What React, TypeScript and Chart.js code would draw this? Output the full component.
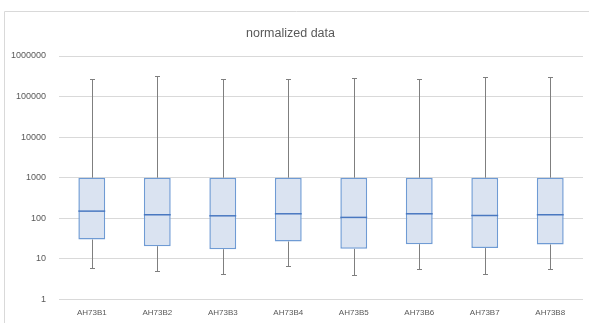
import React, { useEffect, useRef } from "react";
import { Chart, registerables } from "chart.js";

Chart.register(...registerables);

const categories = ["AH73B1", "AH73B2", "AH73B3", "AH73B4", "AH73B5", "AH73B6", "AH73B7", "AH73B8"];
const mins = [6, 5, 4.2, 6.8, 4.0, 5.5, 4.2, 5.5];
const q1s = [30, 20.5, 17.3, 26.8, 17.7, 23, 18.4, 22.6];
const medians = [150, 122, 115, 129, 105, 129, 117, 122];
const q3s = [1000, 1000, 1000, 1000, 1000, 1000, 1000, 1000];
const maxs = [273000, 316000, 267000, 278000, 294000, 278000, 299000, 299000];
const yTicks = [1, 10, 100, 1000, 10000, 100000, 1000000];

const FONT = "'Liberation Sans', Arial, sans-serif";

const boxPlugin = {
  id: "boxParts",
  beforeDraw(chart: any) {
    const ctx = chart.ctx;
    ctx.save();
    ctx.strokeStyle = "#d9d9d9";
    ctx.lineWidth = 1;
    ctx.beginPath();
    ctx.moveTo(4.5, chart.height);
    ctx.lineTo(4.5, 11.5);
    ctx.lineTo(chart.width, 11.5);
    ctx.stroke();
    ctx.restore();
  },
  beforeDatasetsDraw(chart: any) {
    const ctx = chart.ctx;
    const x = chart.scales.x;
    const y = chart.scales.y;
    ctx.save();
    ctx.strokeStyle = "#7f7f7f";
    ctx.lineWidth = 1;
    categories.forEach((_, i) => {
      const cx = Math.round(x.getPixelForValue(i)) + 0.5;
      const yMax = Math.round(y.getPixelForValue(maxs[i])) + 0.5;
      const yMin = Math.round(y.getPixelForValue(mins[i])) + 0.5;
      const yQ3 = y.getPixelForValue(q3s[i]);
      const yQ1 = y.getPixelForValue(q1s[i]);
      ctx.beginPath();
      ctx.moveTo(cx, yMax);
      ctx.lineTo(cx, yQ3);
      ctx.moveTo(cx, yQ1);
      ctx.lineTo(cx, yMin);
      ctx.moveTo(cx - 2.5, yMax);
      ctx.lineTo(cx + 2.5, yMax);
      ctx.moveTo(cx - 2.5, yMin);
      ctx.lineTo(cx + 2.5, yMin);
      ctx.stroke();
    });
    ctx.restore();
  },
  afterDatasetsDraw(chart: any) {
    const ctx = chart.ctx;
    const y = chart.scales.y;
    const meta = chart.getDatasetMeta(0);
    ctx.save();
    ctx.strokeStyle = "#4a78c0";
    ctx.lineWidth = 1.5;
    meta.data.forEach((bar: any, i: number) => {
      const half = bar.width / 2;
      const ym = y.getPixelForValue(medians[i]);
      ctx.beginPath();
      ctx.moveTo(bar.x - half, ym);
      ctx.lineTo(bar.x + half, ym);
      ctx.stroke();
    });
    ctx.restore();
  },
};

export default function App() {
  const ref = useRef<HTMLCanvasElement | null>(null);
  useEffect(() => {
    document.body.style.margin = "0";
    const chart = new Chart(ref.current as HTMLCanvasElement, {
      type: "bar",
      data: {
        labels: categories,
        datasets: [
          {
            data: categories.map((_, i) => [q1s[i], q3s[i]]) as any,
            backgroundColor: "#dae3f1",
            borderColor: "#6f9bd4",
            borderWidth: 1.5,
            borderSkipped: false,
            barPercentage: 0.41,
            categoryPercentage: 1,
          },
        ],
      },
      options: {
        animation: false,
        responsive: false,
        layout: { padding: { left: -2, right: 6, top: 0, bottom: 4 } },
        plugins: {
          legend: { display: false },
          tooltip: { enabled: false },
          title: {
            display: true,
            text: "normalized data",
            color: "#595959",
            font: { family: FONT, size: 12.5, weight: "normal" },
            padding: { top: 26, bottom: 15 },
          },
        },
        scales: {
          x: {
            grid: { display: false },
            border: { display: false },
            ticks: { color: "#595959", font: { family: FONT, size: 8 }, padding: 1, maxRotation: 0 },
          },
          y: {
            type: "logarithmic",
            min: 1,
            max: 1000000,
            afterBuildTicks(scale: any) {
              scale.ticks = yTicks.map((v) => ({ value: v }));
            },
            grid: { color: "#d9d9d9", drawTicks: false },
            border: { display: false },
            ticks: {
              color: "#595959",
              font: { family: FONT, size: 9 },
              padding: 13,
              callback: (v: any) => String(v),
            },
          },
        },
      },
      plugins: [boxPlugin],
    });
    return () => chart.destroy();
  }, []);
  return <canvas ref={ref} width={589} height={323} style={{ display: "block" }} />;
}
